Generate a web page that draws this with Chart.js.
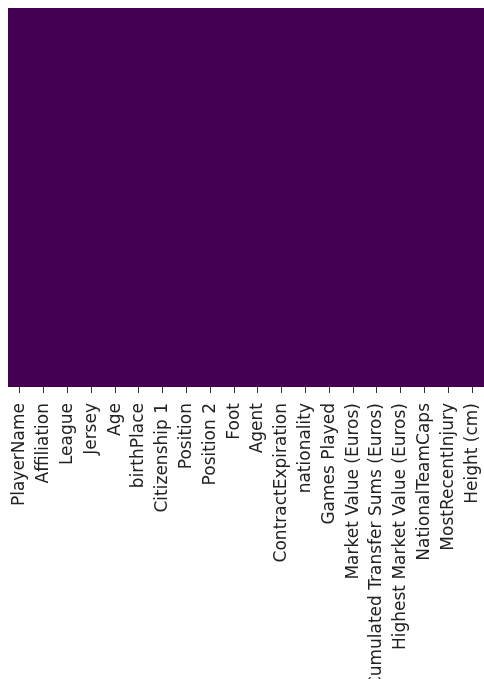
<!DOCTYPE html>
<html>
<head>
<meta charset="utf-8">
<script src="https://cdn.jsdelivr.net/npm/chart.js@4.4.0/dist/chart.umd.min.js"></script>
<style>
  html, body { margin: 0; padding: 0; background: #fff; overflow: hidden; width: 484px; height: 679px; }
  canvas { display: block; }
</style>
</head>
<body>
<canvas id="heat" width="484" height="679"></canvas>
<script>
// columns of the dataframe
const columns = [
    'PlayerName', 'Affiliation', 'League', 'Jersey', 'Age', 'birthPlace',
    'Citizenship 1', 'Position', 'Position 2', 'Foot', 'Agent',
    'ContractExpiration', 'nationality', 'Games Played', 'Market Value (Euros)',
    'Cumulated Transfer Sums (Euros)', 'Highest Market Value (Euros)',
    'NationalTeamCaps', 'MostRecentInjury', 'Height (cm)'
];

// isnull() result per column - nothing missing anywhere
const missing = [0, 0, 0, 0, 0, 0, 0, 0, 0, 0, 0, 0, 0, 0, 0, 0, 0, 0, 0, 0];

// viridis ends
function viridis(v) {
    return v > 0.5 ? '#fde725' : '#440154';
}

// each column is one cell spanning all the rows
const cells = columns.map(() => [0, 1]);

Chart.defaults.font.family = "'DejaVu Sans', sans-serif";
Chart.defaults.color = '#222';

new Chart(document.getElementById('heat'), {
    type: 'bar',
    data: {
        labels: columns,
        datasets: [{
            data: cells,
            backgroundColor: missing.map(viridis),
            borderWidth: 0,
            barPercentage: 1.06,   // slight overlap so no seams show
            categoryPercentage: 1
        }]
    },
    options: {
        responsive: false,
        animation: false,
        layout: { padding: { left: 8, top: 8, right: 0, bottom: 0 } },
        plugins: {
            legend: { display: false },
            tooltip: { enabled: false }
        },
        scales: {
            x: {
                offset: true,
                border: { display: false },
                grid: {
                    offset: false,
                    drawOnChartArea: false,
                    drawTicks: true,
                    tickLength: 6,
                    color: '#333',
                    lineWidth: 1
                },
                ticks: {
                    autoSkip: false,
                    minRotation: 90,
                    maxRotation: 90,
                    padding: 10,
                    font: { size: 17 },
                    color: '#222'
                },
                afterFit: function(scale) {
                    scale.height = 292;
                    scale.paddingLeft = 0;
                    scale.paddingRight = 0;
                }
            },
            y: {
                display: false,
                min: 0,
                max: 1
            }
        }
    }
});
</script>
</body>
</html>
